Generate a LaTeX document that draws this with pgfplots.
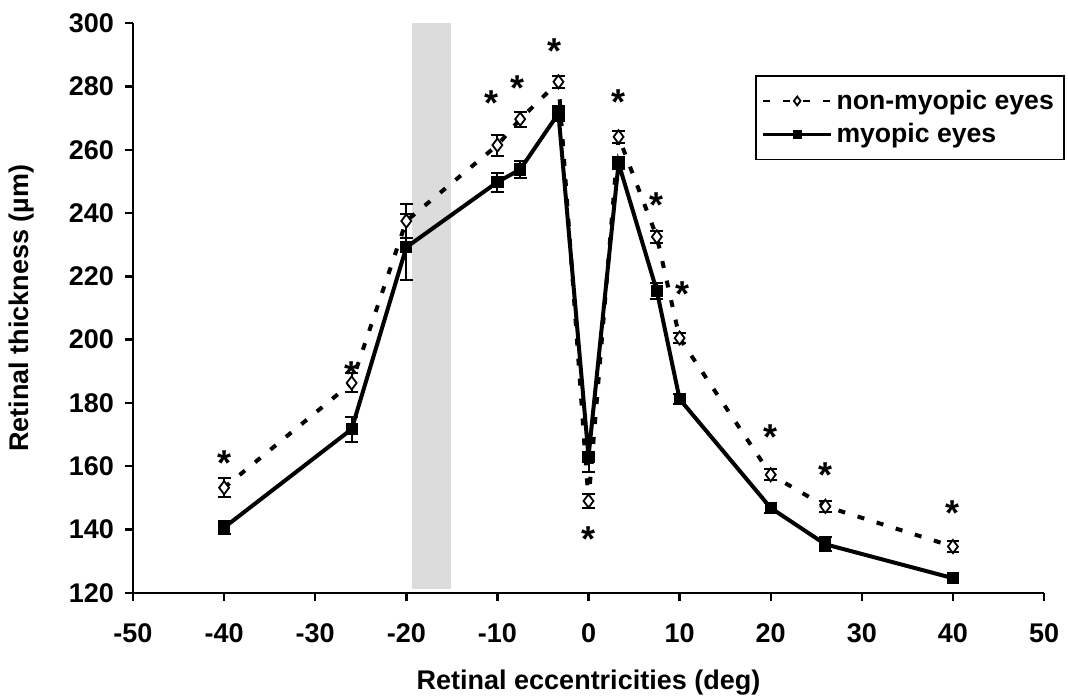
\documentclass[border=0pt]{standalone}
\usepackage{fontspec}
\setmainfont{Liberation Sans}
\usepackage{pgfplots}
\usepackage{pgfplotstable}
\pgfplotsset{compat=1.18}
\usetikzlibrary{plotmarks}
\definecolor{band}{RGB}{220,220,220}

\pgfplotstableread{
x y e
-40 153.2 3
-26 186.3 3
-20 237.5 5.5
-10 261.5 3.3
-7.5 269.7 2.4
-3.3 281.5 1.9
0 149 2.3
3.3 264.1 2
7.5 232.5 1.8
10 200.5 1.5
20 157.3 1.8
26 147.3 1.8
40 134.6 1.8
}\nonmyopic

\pgfplotstableread{
x y e
-40 140.6 2
-26 171.7 4
-20 229.2 10.4
-10 249.8 3
-7.5 253.8 2.8
-3.3 271.5 2.5
0 163 4.7
3.3 255.8 2
7.5 215.4 2.5
10 181.2 1.5
20 146.8 1.5
26 135.3 2.2
40 124.6 1.5
}\myopic

\pgfplotstableread{
x y
-40 163.3
-26 191.4
-10.6 277.2
-7.8 281.8
-3.7 293.6
0 139.2
3.3 277.6
7.5 245
10.3 216.7
20 171.5
26 159.7
40 147.5
}\stars

\begin{document}
\begin{tikzpicture}
\useasboundingbox (-66.5pt,-51.65pt) rectangle (467.5pt,296.35pt);
\begin{axis}[
  at={(0pt,0pt)}, anchor=south west,
  scale only axis, width=455.5pt, height=284.7pt,
  xmin=-50, xmax=50, ymin=120, ymax=300,
  xtick={-50,-40,...,50}, ytick={120,140,...,300},
  axis lines*=left,
  axis line style={line width=1.2pt, black},
  tick align=outside, major tick length=4pt,
  tick style={line width=1.2pt, black},
  minor tick num=0,
  clip=false,
  font=\bfseries\fontsize{13.5}{16}\selectfont,
  /pgf/number format/assume math mode=true,
  ticklabel style={font=\bfseries\fontsize{13.5}{16}\selectfont},
  xticklabel style={yshift=-8pt},
  yticklabel style={xshift=-2pt},
  xlabel={Retinal eccentricities (deg)},
  ylabel={Retinal thickness (µm)},
  label style={font=\bfseries\fontsize{13.5}{16}\selectfont},
  xlabel style={at={(axis description cs:0.5,-0.157)}, anchor=center},
  ylabel style={at={(axis description cs:-0.122,0.5)}, anchor=center},
  legend style={at={(axis description cs:0.683,0.909)}, anchor=north west,
    draw=black, line width=0.7pt, font=\bfseries\fontsize{13.3}{16}\selectfont,
    inner xsep=3pt, inner ysep=5pt, row sep=1.5pt},
  legend cell align=left,
  legend image code/.code={\draw[mark repeat=2,mark phase=2] plot coordinates {(0pt,0pt) (17pt,0pt) (34pt,0pt)};},
]
\addplot[draw=none, fill=band, forget plot] coordinates {(-19.4,121.3) (-19.4,300) (-15.1,300) (-15.1,121.3)} -- cycle;

\addplot[black, line width=2pt, dash pattern=on 3.5pt off 6.5pt,
  mark=diamond*, mark size=3.3pt,
  mark options={solid, fill=white, draw=black, line width=0.9pt},
  legend image post style={line width=1.2pt, mark size=2.2pt},
  error bars/.cd, y dir=both, y explicit,
  error bar style={solid, line width=1pt, black},
  error mark options={rotate=90, mark size=3.2pt, line width=1pt, solid, black}]
  table[x=x, y=y, y error=e] {\nonmyopic};
\addlegendentry{non-myopic eyes}

\addplot[black, line width=2pt, solid,
  mark=square*, mark size=2.8pt,
  mark options={solid, fill=black, draw=black, line width=0.5pt},
  legend image post style={line width=1.3pt, mark size=1.9pt},
  error bars/.cd, y dir=both, y explicit,
  error bar style={solid, line width=1pt, black},
  error mark options={rotate=90, mark size=3.2pt, line width=1pt, solid, black}]
  table[x=x, y=y, y error=e] {\myopic};
\addlegendentry{myopic eyes}

\addplot[only marks, mark=none, forget plot,
  nodes near coords={\bfseries\fontsize{18}{18}\selectfont *},
  nodes near coords align={center},
  every node near coord/.append style={inner sep=0pt, anchor=center, yshift=-3.8pt}]
  table[x=x, y=y] {\stars};
\end{axis}
\end{tikzpicture}
\end{document}
